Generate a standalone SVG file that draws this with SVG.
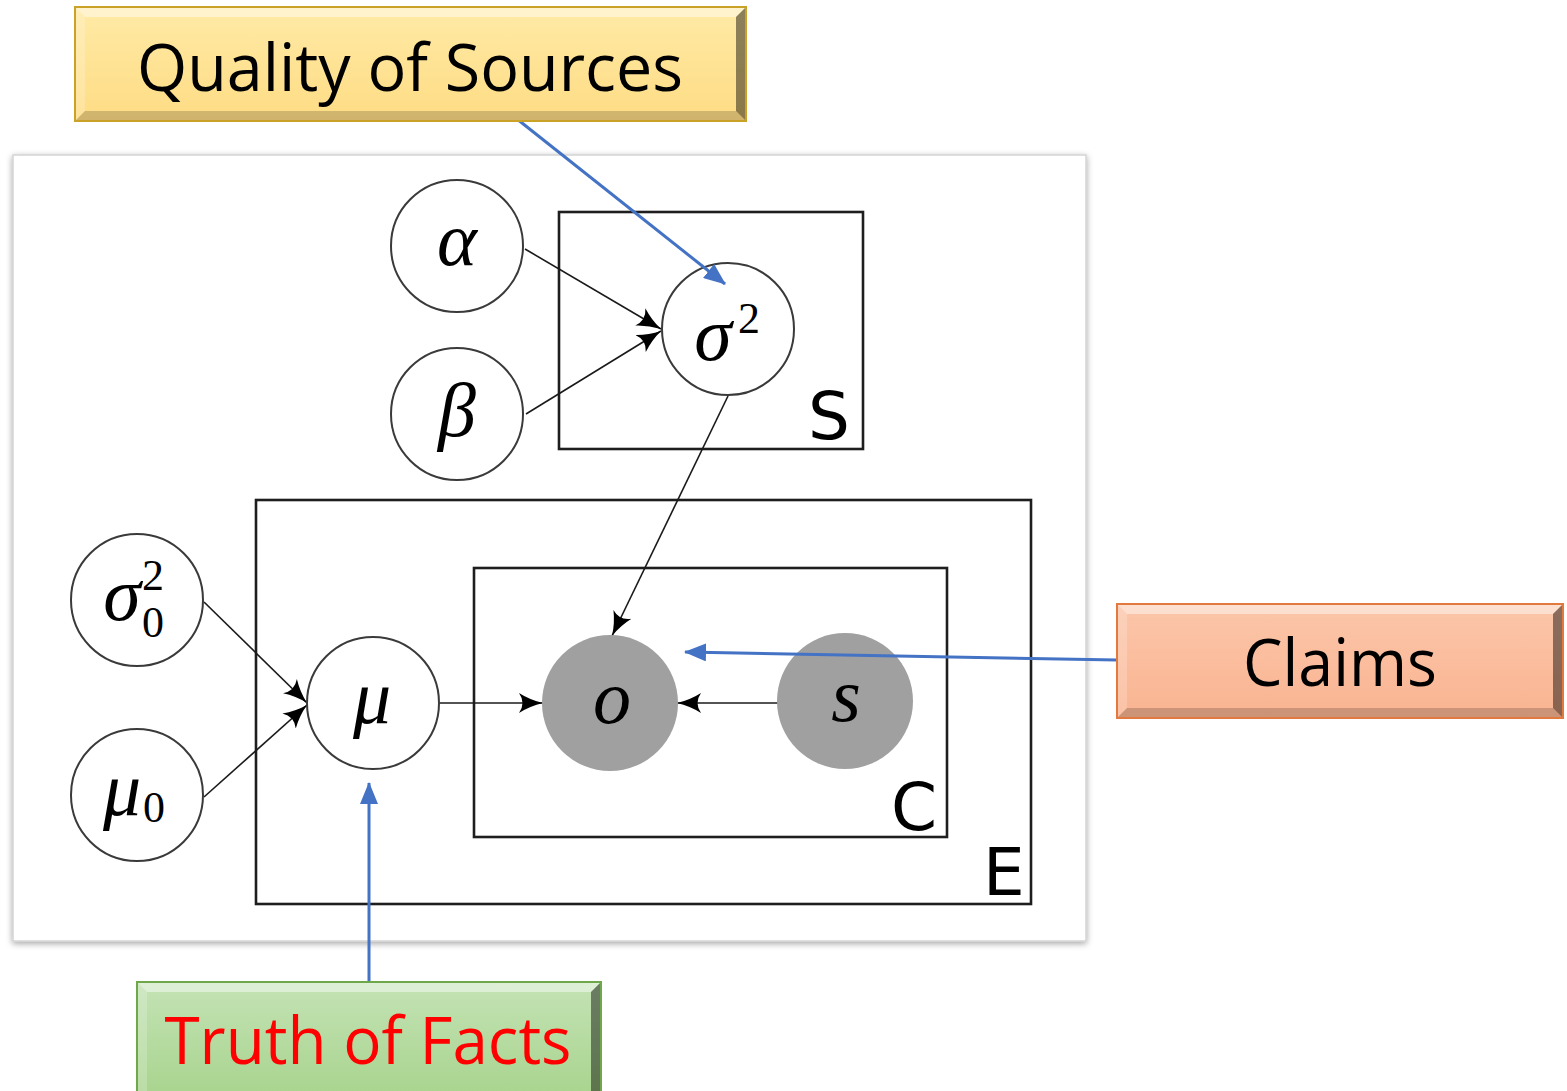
<svg xmlns="http://www.w3.org/2000/svg" width="1567" height="1091" viewBox="0 0 1567 1091">
  <style>
    .node { fill: #ffffff; stroke: #3a3a3a; stroke-width: 2; }
    .obs { fill: #a0a0a0; stroke: none; }
    .plate { fill: none; stroke: #1e1e1e; stroke-width: 2.6; }
    .plabel { font-family: "DejaVu Sans", sans-serif; font-size: 66px; fill: #000; }
    .math { font-family: "Liberation Serif", "DejaVu Serif", serif; font-style: italic; font-size: 76px; fill: #000; text-anchor: middle; }
    .num { font-family: "Liberation Serif", "DejaVu Serif", serif; font-size: 44px; fill: #000; }
    .edge { fill: none; stroke: #1a1a1a; stroke-width: 1.6; }
    .note { fill: none; stroke: #4472c4; stroke-width: 3; }
    .lbl { font-family: "Open Sans", "Noto Sans", sans-serif; font-size: 66px; text-anchor: middle; }
    .hi1 { fill: #ffffff; opacity: 0.45; }
    .hi2 { fill: #ffffff; opacity: 0.2; }
    .sh1 { fill: #000000; opacity: 0.18; }
    .sh2 { fill: #000000; opacity: 0.45; }
  </style>
  <defs>
    <filter id="panelShadow" x="-5%" y="-5%" width="110%" height="110%">
      <feDropShadow dx="0" dy="2" stdDeviation="3" flood-color="#000" flood-opacity="0.35"/>
    </filter>
    <!-- concave "stealth" head for the model edges -->
    <marker id="stealth" markerUnits="userSpaceOnUse" markerWidth="26" markerHeight="22" viewBox="0 0 26 22" refX="24" refY="11" orient="auto">
      <path d="M0,1 Q11,8 24,11 Q11,14 0,21 Q7,11 0,1 Z" fill="#000"/>
    </marker>
    <marker id="blueHead" markerUnits="userSpaceOnUse" markerWidth="22" markerHeight="18" viewBox="0 0 22 18" refX="21" refY="9" orient="auto">
      <path d="M0,0 L22,9 L0,18 Z" fill="#4472c4"/>
    </marker>
    <linearGradient id="gYellow" x1="0" y1="0" x2="0" y2="1">
      <stop offset="0" stop-color="#ffeaa6"/>
      <stop offset="1" stop-color="#fedc84"/>
    </linearGradient>
    <linearGradient id="gOrange" x1="0" y1="0" x2="0" y2="1">
      <stop offset="0" stop-color="#fcc6aa"/>
      <stop offset="1" stop-color="#f9b491"/>
    </linearGradient>
    <linearGradient id="gGreen" x1="0" y1="0" x2="0" y2="1">
      <stop offset="0" stop-color="#c4e3b5"/>
      <stop offset="1" stop-color="#a9d48f"/>
    </linearGradient>
  </defs>

  <!-- white figure panel -->
  <rect x="13" y="155" width="1073" height="786" fill="#ffffff" stroke="#d4d4d4" stroke-width="1.5" filter="url(#panelShadow)"/>

  <!-- plates -->
  <g id="plate-S">
    <rect class="plate" x="559" y="212" width="304" height="237"/>
    <text class="plabel" x="808" y="439">S</text>
  </g>
  <g id="plate-E">
    <rect class="plate" x="256" y="500" width="775" height="404"/>
    <text class="plabel" x="983" y="895">E</text>
  </g>
  <g id="plate-C">
    <rect class="plate" x="474" y="568" width="473" height="269"/>
    <text class="plabel" x="891" y="830">C</text>
  </g>

  <!-- model edges -->
  <g id="edges">
    <line class="edge" x1="525" y1="249" x2="661" y2="329" marker-end="url(#stealth)"/>
    <line class="edge" x1="526" y1="414" x2="661" y2="331" marker-end="url(#stealth)"/>
    <line class="edge" x1="728" y1="396" x2="612" y2="636" marker-end="url(#stealth)"/>
    <line class="edge" x1="204" y1="602" x2="307" y2="703" marker-end="url(#stealth)"/>
    <line class="edge" x1="204" y1="797" x2="307" y2="705" marker-end="url(#stealth)"/>
    <line class="edge" x1="440" y1="703" x2="543" y2="703" marker-end="url(#stealth)"/>
    <line class="edge" x1="778" y1="703" x2="677" y2="703" marker-end="url(#stealth)"/>
  </g>

  <!-- variables -->
  <g id="node-alpha">
    <circle class="node" cx="457" cy="246" r="66"/>
    <text class="math" x="457" y="265">α</text>
  </g>
  <g id="node-beta">
    <circle class="node" cx="457" cy="414" r="66"/>
    <text class="math" x="457" y="436">β</text>
  </g>
  <g id="node-sigma2">
    <circle class="node" cx="728" cy="329" r="66"/>
    <text class="math" x="713" y="360">σ</text>
    <text class="num" x="738" y="333">2</text>
  </g>
  <g id="node-sigma0">
    <circle class="node" cx="137" cy="600" r="66"/>
    <text class="math" x="122" y="620">σ</text>
    <text class="num" x="142" y="590" font-size="40">2</text>
    <text class="num" x="142" y="637" font-size="40">0</text>
  </g>
  <g id="node-mu0">
    <circle class="node" cx="137" cy="795" r="66"/>
    <text class="math" x="122" y="815">μ</text>
    <text class="num" x="143" y="822">0</text>
  </g>
  <g id="node-mu">
    <circle class="node" cx="373" cy="703" r="66"/>
    <text class="math" x="372" y="723">μ</text>
  </g>
  <g id="node-o">
    <circle class="obs" cx="610" cy="703" r="68"/>
    <text class="math" x="612" y="723">o</text>
  </g>
  <g id="node-s">
    <circle class="obs" cx="845" cy="701" r="68"/>
    <text class="math" x="846" y="721">s</text>
  </g>

  <!-- annotation pointers -->
  <g id="annotation-arrows">
    <line class="note" x1="517" y1="119" x2="725" y2="284" marker-end="url(#blueHead)"/>
    <line class="note" x1="1117" y1="660" x2="685" y2="652" marker-end="url(#blueHead)"/>
    <line class="note" x1="369" y1="982" x2="369" y2="783" marker-end="url(#blueHead)"/>
  </g>

  <!-- bevelled callout boxes -->
  <g id="label-quality">
    <rect x="75" y="7" width="671" height="114" fill="url(#gYellow)"/>
    <polygon class="hi1" points="75,7 746,7 736,17 85,17"/>
    <polygon class="hi2" points="75,7 85,17 85,111 75,121"/>
    <polygon class="sh1" points="75,121 85,111 736,111 746,121"/>
    <polygon class="sh2" points="746,7 746,121 736,111 736,17"/>
    <rect x="75" y="7" width="671" height="114" fill="none" stroke="#c9a227" stroke-width="2"/>
    <text class="lbl" x="410" y="91" textLength="546" lengthAdjust="spacingAndGlyphs" fill="#000">Quality of Sources</text>
  </g>
  <g id="label-claims">
    <rect x="1117" y="604" width="446" height="114" fill="url(#gOrange)"/>
    <polygon class="hi1" points="1117,604 1563,604 1553,614 1127,614"/>
    <polygon class="hi2" points="1117,604 1127,614 1127,708 1117,718"/>
    <polygon class="sh1" points="1117,718 1127,708 1553,708 1563,718"/>
    <polygon class="sh2" points="1563,604 1563,718 1553,708 1553,614"/>
    <rect x="1117" y="604" width="446" height="114" fill="none" stroke="#e27a3f" stroke-width="2"/>
    <text class="lbl" x="1340" y="686" textLength="194" lengthAdjust="spacingAndGlyphs" fill="#000">Claims</text>
  </g>
  <g id="label-truth">
    <rect x="137" y="982" width="464" height="112" fill="url(#gGreen)"/>
    <polygon class="hi1" points="137,982 601,982 591,992 147,992"/>
    <polygon class="hi2" points="137,982 147,992 147,1091 137,1091"/>
    <polygon class="sh2" points="601,982 601,1091 591,1091 591,992"/>
    <rect x="137" y="982" width="464" height="112" fill="none" stroke="#6ea84a" stroke-width="2"/>
    <text class="lbl" x="368" y="1064" textLength="407" lengthAdjust="spacingAndGlyphs" fill="#ff0000">Truth of Facts</text>
  </g>
</svg>
